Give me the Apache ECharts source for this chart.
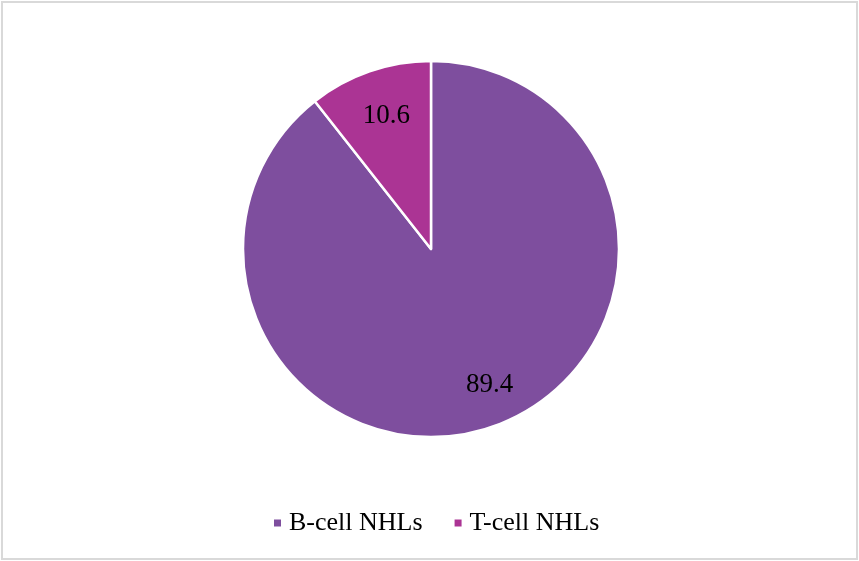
<!DOCTYPE html>
<html>
<head>
<meta charset="utf-8">
<script src="https://cdn.jsdelivr.net/npm/echarts@6/dist/echarts.min.js"></script>
<style>
html,body{margin:0;padding:0;background:#fff;}
#chart{width:859px;height:561px;}
</style>
</head>
<body>
<div id="chart"></div>
<script>
const categories = ["B-cell NHLs", "T-cell NHLs"];
const values = [89.4, 10.6];
const colors = ["#7E4E9E", "#AB3494"];

const chart = echarts.init(document.getElementById('chart'));
const mainData = categories.map((c, i) => ({ name: c, value: values[i], itemStyle: { color: colors[i] } }));
const labelData = categories.map((c, i) => ({ name: c, value: values[i], itemStyle: { color: 'rgba(0,0,0,0)' } }));

chart.setOption({
  animation: false,
  graphic: [{
    type: 'rect', shape: { x: 2, y: 2, width: 855, height: 557 },
    style: { fill: 'none', stroke: '#D9D9D9', lineWidth: 2 }, silent: true
  }],
  legend: {
    data: categories,
    bottom: 20,
    left: 267,
    itemWidth: 9, itemHeight: 9, itemGap: 30,
    icon: 'rect',
    textStyle: { fontFamily: 'Liberation Serif, Times New Roman, serif', fontSize: 26, color: '#000', padding: [0, 0, 0, 2] }
  },
  series: [{
    type: 'pie',
    center: [431, 249],
    radius: [0, 188],
    startAngle: 90,
    clockwise: true,
    data: mainData,
    label: { show: false },
    labelLine: { show: false },
    itemStyle: { borderColor: '#fff', borderWidth: 2.5 },
    emphasis: { disabled: true }
  }, {
    type: 'pie',
    center: [431, 249],
    radius: [98, 188],
    startAngle: 90,
    clockwise: true,
    silent: true,
    data: labelData,
    legendHoverLink: false,
    label: {
      show: true, position: 'inside',
      formatter: p => p.value.toFixed(1),
      fontFamily: 'Liberation Serif, Times New Roman, serif', fontSize: 27, color: '#000'
    },
    labelLayout: p => p.dataIndex === 0 ? { dx: 11, dy: -2 } : { dx: 3, dy: 5 },
    labelLine: { show: false },
    emphasis: { disabled: true }
  }]
});
</script>
</body>
</html>
